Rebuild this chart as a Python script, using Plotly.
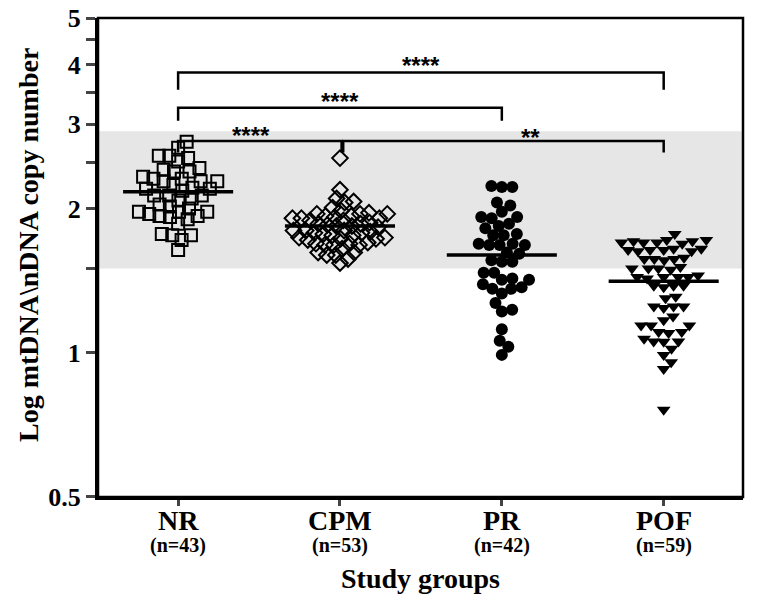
import numpy as np
import plotly.graph_objects as go

# Группы и размеры выборок
groups = ['NR', 'CPM', 'PR', 'POF']
group_sizes = [43, 53, 42, 59]

# Значения mtDNA/nDNA
nr_values = [2.76, 2.68, 2.58, 2.58, 2.55, 2.51, 2.41, 2.39, 2.43, 2.39,
             2.33, 2.28, 2.31, 2.31, 2.28, 2.28, 2.24, 2.20, 2.21, 2.20,
             2.18, 2.13, 2.13, 2.13, 2.10, 2.04, 2.02, 2.08, 2.00, 1.97,
             1.97, 1.97, 1.95, 1.93, 1.90, 1.92, 1.86, 1.77, 1.76, 1.72,
             1.76, 1.64, 1.93]
cpm_values = [2.55, 2.19, 2.10, 2.06, 2.07, 2.01, 1.95, 1.93, 1.95, 1.93,
              1.95, 1.91, 1.89, 1.91, 1.92, 1.89, 1.91, 1.87, 1.86, 1.85,
              1.80, 1.80, 1.78, 1.80, 1.79, 1.78, 1.74, 1.73, 1.74, 1.72,
              1.73, 1.77, 1.69, 1.68, 1.68, 1.69, 1.62, 1.60, 1.54, 1.57,
              1.60, 1.84, 1.98, 1.83, 1.76, 1.84, 1.76, 1.96, 1.68, 1.62,
              1.70, 1.65, 1.86]
pr_values = [2.23, 2.22, 2.22, 2.03, 2.06, 1.92, 1.92, 1.97, 1.86, 1.84,
             1.77, 1.76, 1.76, 1.82, 1.68, 1.69, 1.69, 1.68, 1.68, 1.56,
             1.55, 1.61, 1.55, 1.43, 1.37, 1.42, 1.36, 1.47, 1.47, 1.42,
             1.36, 1.39, 1.33, 1.27, 1.22, 1.23, 1.12, 1.06, 1.03, 0.99,
             1.91, 1.62]
pof_values = [1.77, 1.72, 1.71, 1.70, 1.70, 1.69, 1.71, 1.70, 1.72,
              1.64, 1.65, 1.63, 1.64, 1.64, 1.63, 1.65,
              1.57, 1.58, 1.57, 1.56, 1.57,
              1.50, 1.49, 1.50, 1.51, 1.50,
              1.44, 1.45, 1.44, 1.43, 1.44, 1.44,
              1.38, 1.37, 1.38, 1.38,
              1.31, 1.30,
              1.25, 1.25, 1.24, 1.25,
              1.19, 1.17, 1.14, 1.14, 1.14,
              1.105, 1.10, 1.105, 1.056, 1.056, 1.055, 1.07,
              0.99, 1.02, 0.955, 0.925, 0.76]
group_means = [2.17, 1.84, 1.60, 1.41]
normal_range = [1.5, 2.9]

all_values = [nr_values, cpm_values, pr_values, pof_values]
symbols = ['square-open', 'diamond-open', 'circle', 'triangle-down']
sizes = [12, 12, 12, 12]
swarm_gap = [10.5, 9, 10.5, 10]

W, H = 764, 604
# страница рендерится со смещением 8px (отступ body), поэтому поля уменьшены
M = dict(l=90, r=29, t=10, b=115)
PLOT_H = H - M['t'] - M['b']
X_RANGE = [-0.495, 3.49]
PX_PER_UNIT = (W - M['l'] - M['r']) / (X_RANGE[1] - X_RANGE[0])


def swarm_offsets(values, diam):
    """Простая раскладка beeswarm: смещения точек по x в единицах категории."""
    ys = np.log10(values) * PLOT_H
    xs = np.zeros(len(values))
    placed = []
    for i in np.argsort(ys, kind='stable'):
        cands = [0.0]
        for j in placed:
            dy = ys[i] - ys[j]
            if abs(dy) < diam:
                dx = np.sqrt(diam ** 2 - dy ** 2)
                cands += [xs[j] + dx, xs[j] - dx]
        cands.sort(key=abs)
        for c in cands:
            if all((c - xs[j]) ** 2 + (ys[i] - ys[j]) ** 2 >= diam ** 2 - 1e-6 for j in placed):
                xs[i] = c
                break
        placed.append(i)
    return xs / PX_PER_UNIT


fig = go.Figure()

for k, vals in enumerate(all_values):
    offs = swarm_offsets(vals, swarm_gap[k])
    filled = symbols[k] in ('circle', 'triangle-down')
    fig.add_trace(go.Scatter(
        x=k + offs, y=vals, mode='markers',
        marker=dict(symbol=symbols[k], size=sizes[k], color='black',
                    line=dict(color='black', width=2 if not filled else 0)),
        showlegend=False, hoverinfo='y'
    ))
    # Линия среднего
    fig.add_trace(go.Scatter(
        x=[k - 0.34, k + 0.34], y=[group_means[k]] * 2, mode='lines',
        line=dict(color='black', width=3.5), showlegend=False, hoverinfo='skip'
    ))

# Серая полоса нормального диапазона
fig.add_shape(type='rect', xref='paper', yref='y', x0=0, x1=1,
              y0=normal_range[0], y1=normal_range[1],
              fillcolor='#e6e6e6', line_width=0, layer='below')

# Скобки значимости
brackets = [
    (0, 3, 3.85, 3.54, '****', 1.5, 4.05),
    (0, 2, 3.25, 3.05, '****', 1.0, 3.41),
    (0, 1.01, 2.77, 2.62, '****', 0.45, 2.90),
    (1.02, 3, 2.77, 2.62, '**', 2.18, 2.87),
]
for x0, x1, ytop, yleg, label, tx, ty in brackets:
    fig.add_trace(go.Scatter(
        x=[x0, x0, x1, x1], y=[yleg, ytop, ytop, yleg], mode='lines',
        line=dict(color='black', width=2.5), showlegend=False, hoverinfo='skip'
    ))
    fig.add_annotation(x=tx, y=np.log10(ty), text=f'<b>{label}</b>', showarrow=False,
                       font=dict(family='Liberation Sans', size=24, color='black'),
                       xanchor='center', yanchor='middle', yshift=-4)

# Рамка графика
fig.add_shape(type='rect', xref='paper', yref='paper', x0=0, x1=1, y0=0, y1=1,
              line=dict(color='black', width=2.5), layer='above')

# Подписи категорий и объёмов выборок
for k, (g, n) in enumerate(zip(groups, group_sizes)):
    fig.add_annotation(x=k, xref='x', y=0, yref='paper', text=f'<b>{g}</b>',
                       showarrow=False, font=dict(size=28), yanchor='middle', yshift=-23)
    fig.add_annotation(x=k, xref='x', y=0, yref='paper', text=f'<b>(n={n})</b>',
                       showarrow=False, font=dict(size=20), yanchor='middle', yshift=-48)

fig.add_annotation(x=1.5, xref='x', y=0, yref='paper', text='<b>Study groups</b>',
                   showarrow=False, font=dict(size=28), yanchor='middle', yshift=-81)
fig.add_annotation(x=0, xref='paper', y=0.526, yref='paper',
                   text='<b>Log mtDNA\\nDNA copy number</b>', textangle=-90,
                   showarrow=False, font=dict(size=28), xanchor='center', yanchor='middle',
                   xshift=-70)

tick_vals = [0.5, 1, 1.5, 2, 2.5, 3, 3.5, 4, 4.5, 5]
tick_text = ['0.5', '1', '', '2', '', '3', '', '4', '', '5']
eps = 1e-4

fig.update_layout(
    width=W, height=H, margin=M,
    plot_bgcolor='white', paper_bgcolor='white',
    font=dict(family='Liberation Serif', color='black'),
    xaxis=dict(
        range=X_RANGE, tickmode='array', tickvals=[0, 1, 2, 3], showticklabels=False,
        ticks='outside', ticklen=6, tickwidth=2.5, automargin=False,
        showline=True, linecolor='black', linewidth=3, showgrid=False, zeroline=False,
    ),
    yaxis=dict(
        type='log', range=[np.log10(0.5) - eps, np.log10(5) + eps], automargin=False,
        tickmode='array', tickvals=tick_vals, ticktext=[f'<b>{t}</b>' for t in tick_text],
        tickfont=dict(size=26), ticks='outside', ticklen=9, tickwidth=2.5,
        ticklabeloverflow='allow',  # иначе верхняя подпись «5» скрывается у края
        showline=True, linecolor='black', linewidth=3, showgrid=False, zeroline=False,
    ),
)

fig.write_html('out.html')
